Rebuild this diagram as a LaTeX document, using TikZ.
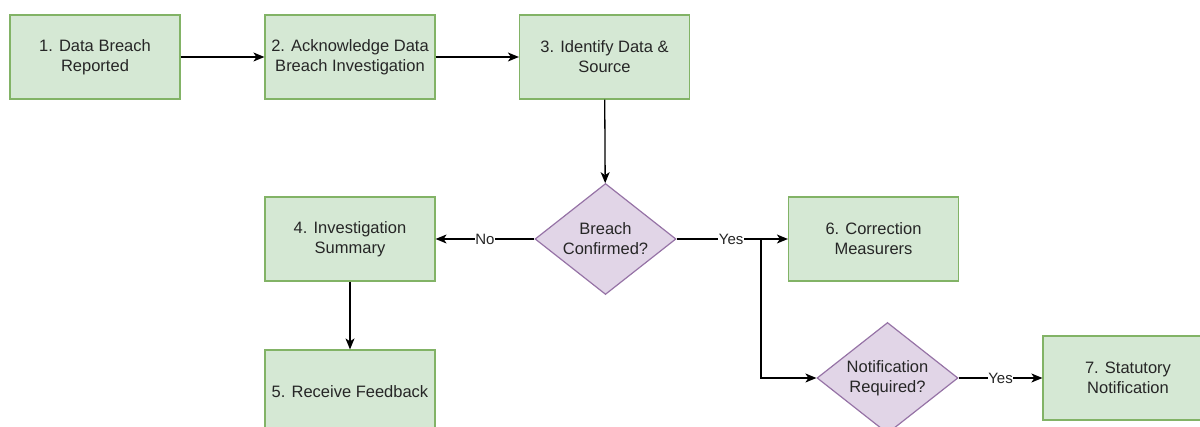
\documentclass[tikz,border=0pt]{standalone}
\usepackage{fontspec}
\setmainfont{Liberation Sans}
\usetikzlibrary{shapes.geometric,arrows.meta}
\definecolor{gfill}{HTML}{D5E8D4}
\definecolor{gline}{HTML}{82B366}
\definecolor{pfill}{HTML}{E1D5E7}
\definecolor{pline}{HTML}{9673A6}
\definecolor{txtc}{HTML}{262626}
\tikzset{
  stepbox/.style={rectangle, draw=gline, fill=gfill, line width=1.2pt, minimum width=170pt, minimum height=84pt, inner sep=0pt, align=center, text=txtc, font=\fontsize{16.5}{20}\selectfont},
  dia/.style={diamond, draw=pline, fill=pfill, line width=1.2pt, minimum width=141pt, minimum height=111pt, inner sep=0pt},
  diatxt/.style={align=center, text=txtc, inner sep=0pt, font=\fontsize{16.5}{20}\selectfont},
  conn/.style={line width=1.3pt, -{Stealth[length=11pt,width=9pt,inset=3pt]}},
  lbl/.style={fill=white, inner sep=0.5pt, text=txtc, font=\fontsize{15}{18}\selectfont}
}
\begin{document}
\begin{tikzpicture}[x=1pt,y=-1pt]
\useasboundingbox (0,0) rectangle (1200,427);
\clip (0,0) rectangle (1200,427);
\node[stepbox] (b1) at (95,57) {1. Data Breach\\Reported};
\node[stepbox] (b2) at (350,57) {2. Acknowledge Data\\Breach Investigation};
\node[stepbox] (b3) at (604.5,57) {3. Identify Data \&\\Source};
\node[dia] (d1) at (605.5,239) {};
\node[diatxt] (d1t) at (605.5,239) {Breach\\Confirmed?};
\node[stepbox] (b4) at (350,239) {4. Investigation\\Summary};
\node[stepbox] (b5) at (350,392) {5. Receive Feedback};
\node[stepbox] (b6) at (873.5,239) {6. Correction\\Measurers};
\node[dia] (d2) at (887.5,378) {};
\node[diatxt] (d2t) at (887.5,378) {Notification\\Required?};
\node[stepbox] (b7) at (1128,378) {7. Statutory\\Notification};
\coordinate (br) at (761,239);

\draw[conn] (b1) -- (b2);
\draw[conn] (b2) -- (b3);
\draw[conn] (b3) -- (d1);
\draw[conn] (d1.west) -- node[lbl] {No} (b4.east);
\draw[conn] (d1.east) -- node[lbl, pos=0.49] {Yes} (b6.west);
\draw[conn] (br) |- (d2.west);
\draw[conn] (b4) -- (b5);
\draw[conn] (d2.east) -- node[lbl] {Yes} (b7.west);
\end{tikzpicture}
\end{document}
